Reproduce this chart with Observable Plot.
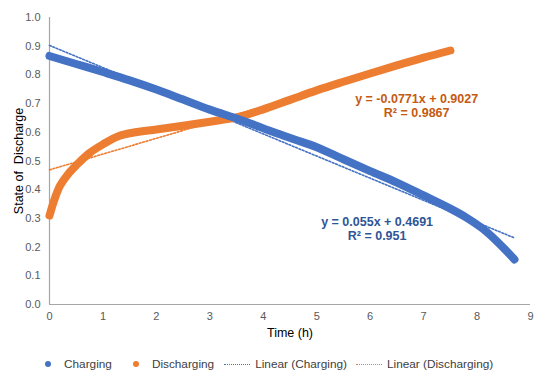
<!DOCTYPE html>
<html>
<head>
<meta charset="utf-8">
<script src="https://cdn.jsdelivr.net/npm/d3@7"></script>
<script src="https://cdn.jsdelivr.net/npm/@observablehq/plot@0.6"></script>
<style>
  html, body { margin: 0; padding: 0; background: #fff; }
  body { width: 550px; height: 380px; font-family: "Liberation Sans", Arial, sans-serif; }
  #legend { display: flex; align-items: center; height: 26px; font-size: 11.8px; color: #404040; padding-left: 45px; margin-top: 9px; }
  .item { display: flex; align-items: center; }
  .dot { width: 6px; height: 6px; border-radius: 50%; margin-right: 13px; }
  .dash { width: 26px; height: 0; border-top: 1.5px dotted; margin-right: 5px; }
</style>
</head>
<body>
<div id="chart"></div>
<div id="legend"></div>
<script>
// Charging series
const chargeTime = [0, 0.5, 1, 1.5, 2, 2.5, 3, 3.5, 3.8, 4.2, 4.6, 5, 5.5, 6, 6.5, 7, 7.5, 7.8, 8.1, 8.4, 8.7];
const chargeSoD  = [0.866, 0.838, 0.81, 0.781, 0.749, 0.714, 0.679, 0.648, 0.628, 0.6, 0.574, 0.548, 0.506, 0.465, 0.425, 0.38, 0.334, 0.303, 0.265, 0.215, 0.157];
// Discharging series
const dischTime = [0, 0.1, 0.2, 0.35, 0.5, 0.75, 1, 1.3, 1.6, 2, 2.5, 3, 3.5, 4, 4.5, 5, 5.5, 6, 6.5, 7, 7.5];
const dischSoD  = [0.31, 0.37, 0.415, 0.455, 0.485, 0.528, 0.558, 0.587, 0.6, 0.61, 0.623, 0.637, 0.652, 0.68, 0.713, 0.746, 0.776, 0.805, 0.833, 0.86, 0.885];
// Linear trendlines (as shown on the chart)
const trendChargeX = [0, 8.7];
const trendChargeSlope = -0.0771, trendChargeIntercept = 0.9027;
const trendDischX = [0, 7.5];
const trendDischSlope = 0.055, trendDischIntercept = 0.4691;
// Equation labels
const labelText  = ["y = -0.0771x + 0.9027", "R² = 0.9867", "y = 0.055x + 0.4691", "R² = 0.951"];
const labelX     = [6.87, 6.87, 6.13, 6.13];
const labelY     = [0.717, 0.668, 0.289, 0.237];
const labelColor = ["#C55A11", "#C55A11", "#2F5597", "#2F5597"];
// Axes
const xTicks = [0, 1, 2, 3, 4, 5, 6, 7, 8, 9];
const yTicks = [0, 0.1, 0.2, 0.3, 0.4, 0.5, 0.6, 0.7, 0.8, 0.9, 1.0];
const xTitle = "Time (h)";
const yTitle = "State of  Discharge";

const BLUE = "#4472C4", ORANGE = "#ED7D31";

const charge = chargeTime.map((t, i) => ({x: t, y: chargeSoD[i]}));
const disch = dischTime.map((t, i) => ({x: t, y: dischSoD[i]}));
const trendC = trendChargeX.map(x => ({x, y: trendChargeIntercept + trendChargeSlope * x}));
const trendD = trendDischX.map(x => ({x, y: trendDischIntercept + trendDischSlope * x}));
const labels = labelText.map((t, i) => ({t, x: labelX[i], y: labelY[i], c: labelColor[i]}));

const chart = Plot.plot({
  width: 550,
  height: 342,
  marginLeft: 49,
  marginRight: 20,
  marginTop: 17,
  marginBottom: 38,
  style: {fontFamily: "Liberation Sans, Arial, sans-serif", fontSize: "11px", color: "#595959", background: "#fff", overflow: "visible"},
  x: {domain: [0, 9], ticks: xTicks, tickSize: 0, tickPadding: 8, label: null},
  y: {domain: [0, 1], ticks: yTicks, tickSize: 0, tickPadding: 9, tickFormat: d3.format(".1f"), label: null},
  marks: [
    Plot.ruleX([0], {stroke: "#a6a6a6", strokeWidth: 1.2}),
    Plot.ruleY([0], {stroke: "#a6a6a6", strokeWidth: 1.2}),
    Plot.line(trendC, {x: "x", y: "y", stroke: BLUE, strokeWidth: 1.6, strokeDasharray: "1.8,1.8"}),
    Plot.line(trendD, {x: "x", y: "y", stroke: ORANGE, strokeWidth: 1.6, strokeDasharray: "1.8,1.8"}),
    Plot.line(disch, {x: "x", y: "y", stroke: ORANGE, strokeWidth: 8, strokeLinecap: "round", curve: "catmull-rom"}),
    Plot.line(charge, {x: "x", y: "y", stroke: BLUE, strokeWidth: 8, strokeLinecap: "round", curve: "catmull-rom"}),
    Plot.text(labels, {x: "x", y: "y", text: "t", fill: "c", fontSize: 12.5, fontWeight: "bold"}),
    Plot.text([xTitle], {frameAnchor: "bottom", lineAnchor: "middle", dy: 28, fontSize: 12.5, fill: "#000", textAnchor: "middle"}),
    Plot.text([yTitle], {frameAnchor: "left", dx: -31, rotate: -90, textAnchor: "middle", fontSize: 12.5, fill: "#000"})
  ]
});
document.getElementById("chart").appendChild(chart);

const legend = document.getElementById("legend");
const items = [
  {type: "dot", color: BLUE, text: "Charging", gap: 21},
  {type: "dot", color: ORANGE, text: "Discharging", gap: 10},
  {type: "dash", color: BLUE, text: "Linear (Charging)", gap: 9},
  {type: "dash", color: ORANGE, text: "Linear (Discharging)", gap: 0}
];
for (const it of items) {
  const d = document.createElement("div");
  d.className = "item";
  d.style.marginRight = it.gap + "px";
  const s = document.createElement("span");
  s.className = it.type;
  if (it.type === "dot") s.style.background = it.color; else s.style.borderTopColor = it.color;
  d.appendChild(s);
  const t = document.createElement("span");
  t.textContent = it.text;
  d.appendChild(t);
  legend.appendChild(d);
}
</script>
</body>
</html>
